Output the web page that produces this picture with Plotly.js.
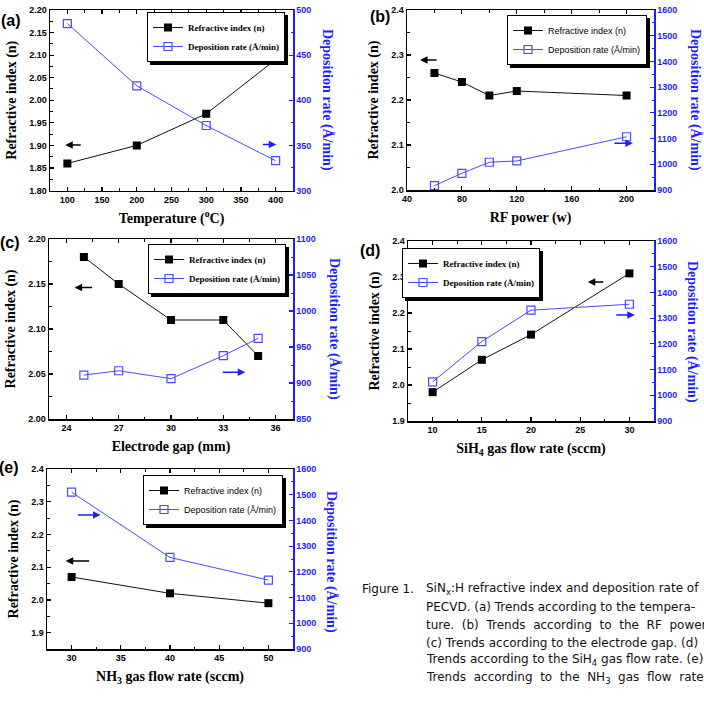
<!DOCTYPE html>
<html>
<head>
<meta charset="utf-8">
<script src="https://cdn.plot.ly/plotly-3.0.1.min.js"></script>
<style>
html,body{margin:0;padding:0;background:#fff;overflow:hidden}
#chart{width:704px;height:705px}
.infolayer rect.bg{filter:drop-shadow(3px 3px 0 #000)}
</style>
</head>
<body>
<div id="chart"></div>
<script>
// ---- data ----
const tempC = [100, 200, 300, 400];
const nTemp = [1.86, 1.90, 1.97, 2.09];
const drTemp = [485, 416, 372, 333];

const rfPower = [60, 80, 100, 120, 200];
const nRF = [2.26, 2.24, 2.21, 2.22, 2.21];
const drRF = [917, 965, 1008, 1013, 1107];

const gapMM = [25, 27, 30, 33, 35];
const nGap = [2.18, 2.15, 2.11, 2.11, 2.07];
const drGap = [911, 917, 906, 938, 962];

const sih4 = [10, 15, 20, 30];
const nSiH4 = [1.98, 2.07, 2.14, 2.31];
const drSiH4 = [1052, 1209, 1331, 1354];

const nh3 = [30, 40, 50];
const nNH3 = [2.07, 2.02, 1.99];
const drNH3 = [1510, 1256, 1168];

const nameN = 'Refractive index (n)';
const nameDR = 'Deposition rate (Å/min)';

// ---- style helpers ----
const W = 704, H = 705;
const px = x => x / W;
const py = y => 1 - y / H;
const BLUE = '#1e1eff';
const LBLUE = '#4a4aff';
const SANS = 'Liberation Sans, Arial, sans-serif';
const SERIF = 'Liberation Serif, Times New Roman, serif';

function nTrace(x, y, xa, ya, lg) {
  return {x, y, xaxis: xa, yaxis: ya, legend: lg, name: nameN, type: 'scatter', mode: 'lines+markers',
    line: {color: '#111', width: 1}, marker: {symbol: 'square', size: 8, color: '#000'}};
}
function dTrace(x, y, xa, ya, lg) {
  return {x, y, xaxis: xa, yaxis: ya, legend: lg, name: nameDR, type: 'scatter', mode: 'lines+markers',
    line: {color: LBLUE, width: 1}, marker: {symbol: 'square-open', size: 8, color: LBLUE, line: {width: 1.2, color: LBLUE}}};
}

const data = [
  nTrace(tempC, nTemp, 'x', 'y', 'legend'), dTrace(tempC, drTemp, 'x', 'y2', 'legend'),
  nTrace(rfPower, nRF, 'x2', 'y3', 'legend2'), dTrace(rfPower, drRF, 'x2', 'y4', 'legend2'),
  nTrace(gapMM, nGap, 'x3', 'y5', 'legend3'), dTrace(gapMM, drGap, 'x3', 'y6', 'legend3'),
  nTrace(sih4, nSiH4, 'x4', 'y7', 'legend4'), dTrace(sih4, drSiH4, 'x4', 'y8', 'legend4'),
  nTrace(nh3, nNH3, 'x5', 'y9', 'legend5'), dTrace(nh3, drNH3, 'x5', 'y10', 'legend5')
];

const tickF = {family: SANS, size: 9, color: '#000', weight: 'bold'};
const tickFB = {family: SANS, size: 9, color: BLUE, weight: 'bold'};
const titleF = {family: SERIF, size: 14, color: '#000', weight: 'bold'};

function xAxis(domain, anchor, range, dtick, minorD, title, tick0) {
  return {domain: [px(domain[0]), px(domain[1])], anchor, range, dtick, tick0: tick0 === undefined ? 0 : tick0,
    showgrid: false, zeroline: false, showline: true, linecolor: '#000', linewidth: 1.5, mirror: 'ticks',
    ticks: 'inside', ticklen: 4, tickwidth: 1.2, tickcolor: '#000', tickfont: tickF,
    minor: {ticks: 'inside', ticklen: 2.5, dtick: minorD, tickcolor: '#000', tickwidth: 1},
    title: {text: title, font: titleF, standoff: 9}};
}
function yAxis(domain, anchor, range, dtick, minorD, fmt, tick0) {
  return {domain: [py(domain[1]), py(domain[0])], anchor, range, dtick, tick0: tick0 === undefined ? 0 : tick0,
    tickformat: fmt, showgrid: false, zeroline: false, showline: true, linecolor: '#000', linewidth: 1.5,
    ticks: 'inside', ticklen: 4, tickwidth: 1.2, tickcolor: '#000', tickfont: tickF,
    minor: {ticks: 'inside', ticklen: 2.5, dtick: minorD, tickcolor: '#000', tickwidth: 1},
    title: {text: nameN, font: titleF, standoff: 9}};
}
function y2Axis(over, anchor, range, dtick, minorD) {
  return {overlaying: over, anchor, side: 'right', range, dtick, tick0: 0,
    showgrid: false, zeroline: false, showline: true, linecolor: BLUE, linewidth: 1.5,
    ticks: 'inside', ticklen: 4, tickwidth: 1.2, tickcolor: BLUE, tickfont: tickFB,
    minor: {ticks: 'inside', ticklen: 2.5, dtick: minorD, tickcolor: BLUE, tickwidth: 1}};
}

function legendBox(xRight, yTop, serif) {
  return {x: px(xRight), y: py(yTop), xanchor: 'right', yanchor: 'top', bgcolor: '#fff', bordercolor: '#000', borderwidth: 1,
    font: serif ? {family: SERIF, size: 9, color: '#000', weight: 'bold'} : {family: SANS, size: 9, color: '#000'},
    itemwidth: 30, tracegroupgap: 0};
}

function arrow(x, y, xref, yref, ax, color) {
  return {x, y, xref, yref, text: '', showarrow: true, ax, ay: 0, arrowhead: 2, arrowsize: 1, arrowwidth: 1.5, arrowcolor: color};
}
function rTitle(x, y) {
  return {x: px(x), y: py(y), xref: 'paper', yref: 'paper', text: nameDR, textangle: 90, showarrow: false,
    font: {family: SERIF, size: 14, color: BLUE, weight: 'bold'}, xanchor: 'center', yanchor: 'middle'};
}
function label(t, x, y) {
  return {x: px(x), y: py(y), xref: 'paper', yref: 'paper', text: t, showarrow: false,
    font: {family: SANS, size: 16, color: '#000', weight: 'bold'}, xanchor: 'center', yanchor: 'middle'};
}
const capF = {family: 'DejaVu Sans, sans-serif', size: 12, color: '#111'};
function cap(t, x, y) {
  return {x: px(x), y: py(y), xref: 'paper', yref: 'paper', text: t, showarrow: false, font: capF, xanchor: 'left', yanchor: 'middle'};
}
const S = ' \u00A0'; // widened gap for justified caption lines

const layout = {
  width: W, height: H, margin: {l: 0, r: 0, t: 0, b: 0}, paper_bgcolor: '#fff', plot_bgcolor: '#fff', showlegend: true,
  xaxis: xAxis([50, 293], 'y', [75, 425], 50, 25, 'Temperature (<sup>o</sup>C)'),
  yaxis: yAxis([10, 190.5], 'x', [1.80, 2.20], 0.05, 0.025, '.2f'),
  yaxis2: y2Axis('y', 'x', [300, 500], 50, 25),

  xaxis2: xAxis([407, 654], 'y3', [40, 220], 40, 20, 'RF power (w)'),
  yaxis3: yAxis([10, 190], 'x2', [2.0, 2.4], 0.1, 0.05, '.1f'),
  yaxis4: y2Axis('y3', 'x2', [900, 1600], 100, 50),

  xaxis3: xAxis([49, 293], 'y5', [23, 37], 3, 1.5, 'Electrode gap (mm)'),
  yaxis5: yAxis([239, 419], 'x3', [2.00, 2.20], 0.05, 0.025, '.2f'),
  yaxis6: y2Axis('y5', 'x3', [850, 1100], 50, 25),

  xaxis4: xAxis([408, 654], 'y7', [7.5, 32.5], 5, 2.5, 'SiH<sub>4</sub> gas flow rate (sccm)'),
  yaxis7: yAxis([241, 421], 'x4', [1.9, 2.4], 0.1, 0.05, '.1f'),
  yaxis8: y2Axis('y7', 'x4', [900, 1600], 100, 50),

  xaxis5: xAxis([47, 293], 'y9', [27.5, 52.5], 5, 2.5, 'NH<sub>3</sub> gas flow rate (sccm)'),
  yaxis9: yAxis([469, 649], 'x5', [1.85, 2.4], 0.1, 0.05, '.1f'),
  yaxis10: y2Axis('y9', 'x5', [900, 1600], 100, 50),

  legend: legendBox(285, 12, true),
  legend2: legendBox(647, 15, false),
  legend3: legendBox(286, 244, true),
  legend4: legendBox(540, 248, true),
  legend5: legendBox(283, 475, false),

  annotations: [
    arrow(97, 1.901, 'x', 'y', 17, '#000'), arrow(401, 351, 'x', 'y2', -15, BLUE),
    arrow(49.5, 2.289, 'x2', 'y3', 18, '#000'), arrow(204.6, 1082, 'x2', 'y4', -20, BLUE),
    arrow(24.47, 2.146, 'x3', 'y5', 19, '#000'), arrow(34.26, 915, 'x3', 'y6', -24, BLUE),
    arrow(25.77, 2.286, 'x4', 'y7', 17, '#000'), arrow(30.55, 1312, 'x4', 'y8', -20, BLUE),
    arrow(29.4, 2.119, 'x5', 'y9', 25, '#000'), arrow(32.94, 1421, 'x5', 'y10', -24, BLUE),
    rTitle(327, 100), rTitle(695, 100), rTitle(334, 329), rTitle(692, 332), rTitle(331, 562),
    label('(a)', 11, 20), label('(b)', 380, 16), label('(c)', 10, 242), label('(d)', 370, 251), label('(e)', 9, 468),
    cap('Figure 1.', 360, 589),
    cap('SiN<sub>x</sub>:H refractive index and deposition rate of', 424, 589),
    cap('PECVD. (a) Trends according to the tempera-', 424, 607),
    cap(['ture.', '(b)', 'Trends', 'according', 'to', 'the', 'RF', 'power.'].join(S), 424, 625),
    cap('(c) Trends according to the electrode gap. (d)', 424, 643),
    cap('Trends according to the SiH<sub>4</sub> gas flow rate. (e)', 424, 660),
    cap(['Trends', 'according', 'to', 'the', 'NH<sub>3</sub>', 'gas', 'flow', 'rate.'].join(S), 424, 678)
  ]
};

Plotly.newPlot('chart', data, layout, {staticPlot: true, displayModeBar: false});
</script>
</body>
</html>
